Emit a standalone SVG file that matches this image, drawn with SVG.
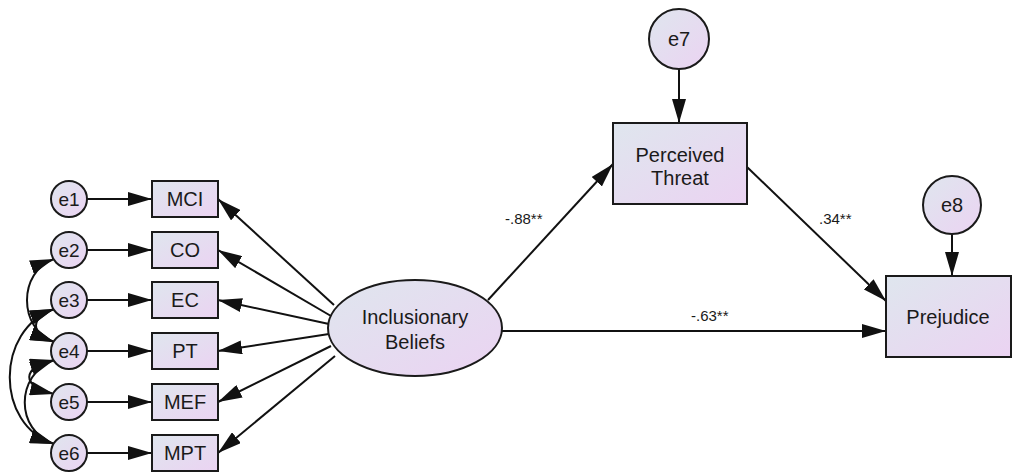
<svg xmlns="http://www.w3.org/2000/svg" width="1013" height="473" viewBox="0 0 1013 473">
<defs>
<linearGradient id="g" x1="0" y1="0" x2="1" y2="1">
<stop offset="0" stop-color="#dfe6ee"/>
<stop offset="1" stop-color="#ebd3f2"/>
</linearGradient>
<marker id="a" viewBox="0 0 24 14" markerWidth="24" markerHeight="14" refX="24" refY="7" orient="auto-start-reverse" markerUnits="userSpaceOnUse">
<path d="M0,0 L24,7 L0,14 z" fill="#111"/>
</marker>
</defs>
<style>
.n{fill:url(#g);stroke:#1a1a1a;stroke-width:2}
.t{font-family:"Liberation Sans",Arial,sans-serif;font-size:20px;fill:#1a1a1a;text-anchor:middle}
.e{font-family:"Liberation Sans",Arial,sans-serif;font-size:19px;fill:#1a1a1a;text-anchor:middle}
.l{font-family:"Liberation Sans",Arial,sans-serif;font-size:15px;fill:#1a1a1a}
.c{fill:none;stroke:#111;stroke-width:2;marker-end:url(#a)}
.b{fill:none;stroke:#111;stroke-width:2;marker-start:url(#a);marker-end:url(#a)}
</style>
<rect width="1013" height="473" fill="#fff"/>
<g id="connectors">
<line class="c" x1="87" y1="199" x2="152" y2="199"/>
<line class="c" x1="87" y1="250" x2="152" y2="250"/>
<line class="c" x1="87" y1="300" x2="152" y2="300"/>
<line class="c" x1="87" y1="351" x2="152" y2="351"/>
<line class="c" x1="87" y1="402" x2="152" y2="402"/>
<line class="c" x1="87" y1="453" x2="152" y2="453"/>
<line class="c" x1="334" y1="305" x2="218" y2="199"/>
<line class="c" x1="331" y1="316" x2="218" y2="250"/>
<line class="c" x1="329" y1="324" x2="218" y2="300"/>
<line class="c" x1="329" y1="334" x2="218" y2="351"/>
<line class="c" x1="331" y1="346" x2="218" y2="402"/>
<line class="c" x1="335" y1="356" x2="218" y2="453"/>
<line class="c" x1="488" y1="300" x2="613" y2="164"/>
<line class="c" x1="747" y1="167" x2="886" y2="301"/>
<line class="c" x1="502" y1="331" x2="886" y2="331"/>
<line class="c" x1="679" y1="69" x2="679" y2="123"/>
<line class="c" x1="952" y1="234" x2="952" y2="276"/>
<path class="b" d="M54,259 C18,272 18,328 54,342"/>
<path class="b" d="M54,309 C30,318 30,333 54,342"/>
<path class="b" d="M54,309 C-5,330 -5,425 54,444"/>
<path class="b" d="M54,360 C21,368 21,386 54,394"/>
<path class="b" d="M54,360 C15,375 15,430 54,444"/>
</g>
<g id="e1"><circle class="n" cx="69" cy="199" r="18"/><text class="e" x="69" y="206">e1</text></g>
<g id="e2"><circle class="n" cx="69" cy="250" r="18"/><text class="e" x="69" y="257">e2</text></g>
<g id="e3"><circle class="n" cx="69" cy="300" r="18"/><text class="e" x="69" y="307">e3</text></g>
<g id="e4"><circle class="n" cx="69" cy="351" r="18"/><text class="e" x="69" y="358">e4</text></g>
<g id="e5"><circle class="n" cx="69" cy="402" r="18"/><text class="e" x="69" y="409">e5</text></g>
<g id="e6"><circle class="n" cx="69" cy="453" r="18"/><text class="e" x="69" y="460">e6</text></g>
<g id="MCI"><rect class="n" x="152" y="181" width="66" height="36"/><text class="t" x="185" y="206">MCI</text></g>
<g id="CO"><rect class="n" x="152" y="232" width="66" height="36"/><text class="t" x="185" y="257">CO</text></g>
<g id="EC"><rect class="n" x="152" y="282" width="66" height="36"/><text class="t" x="185" y="307">EC</text></g>
<g id="PT"><rect class="n" x="152" y="333" width="66" height="36"/><text class="t" x="185" y="358">PT</text></g>
<g id="MEF"><rect class="n" x="152" y="384" width="66" height="36"/><text class="t" x="185" y="409">MEF</text></g>
<g id="MPT"><rect class="n" x="152" y="435" width="66" height="36"/><text class="t" x="185" y="460">MPT</text></g>
<g id="inclusionary"><ellipse class="n" cx="415" cy="328" rx="87" ry="48"/><text class="t" x="415" y="324">Inclusionary</text><text class="t" x="415" y="349">Beliefs</text></g>
<g id="threat"><rect class="n" x="613" y="123" width="134" height="81"/><text class="t" x="680" y="162">Perceived</text><text class="t" x="680" y="185">Threat</text></g>
<g id="e7"><circle class="n" cx="679" cy="39" r="30"/><text class="t" x="679" y="46">e7</text></g>
<g id="prejudice"><rect class="n" x="886" y="276" width="125" height="81"/><text class="t" x="948" y="324">Prejudice</text></g>
<g id="e8"><circle class="n" cx="952" cy="205" r="29"/><text class="t" x="952" y="212">e8</text></g>
<g id="labels">
<text class="l" x="505" y="224">-.88**</text>
<text class="l" x="819" y="224">.34**</text>
<text class="l" x="691" y="321">-.63**</text>
</g>
</svg>
